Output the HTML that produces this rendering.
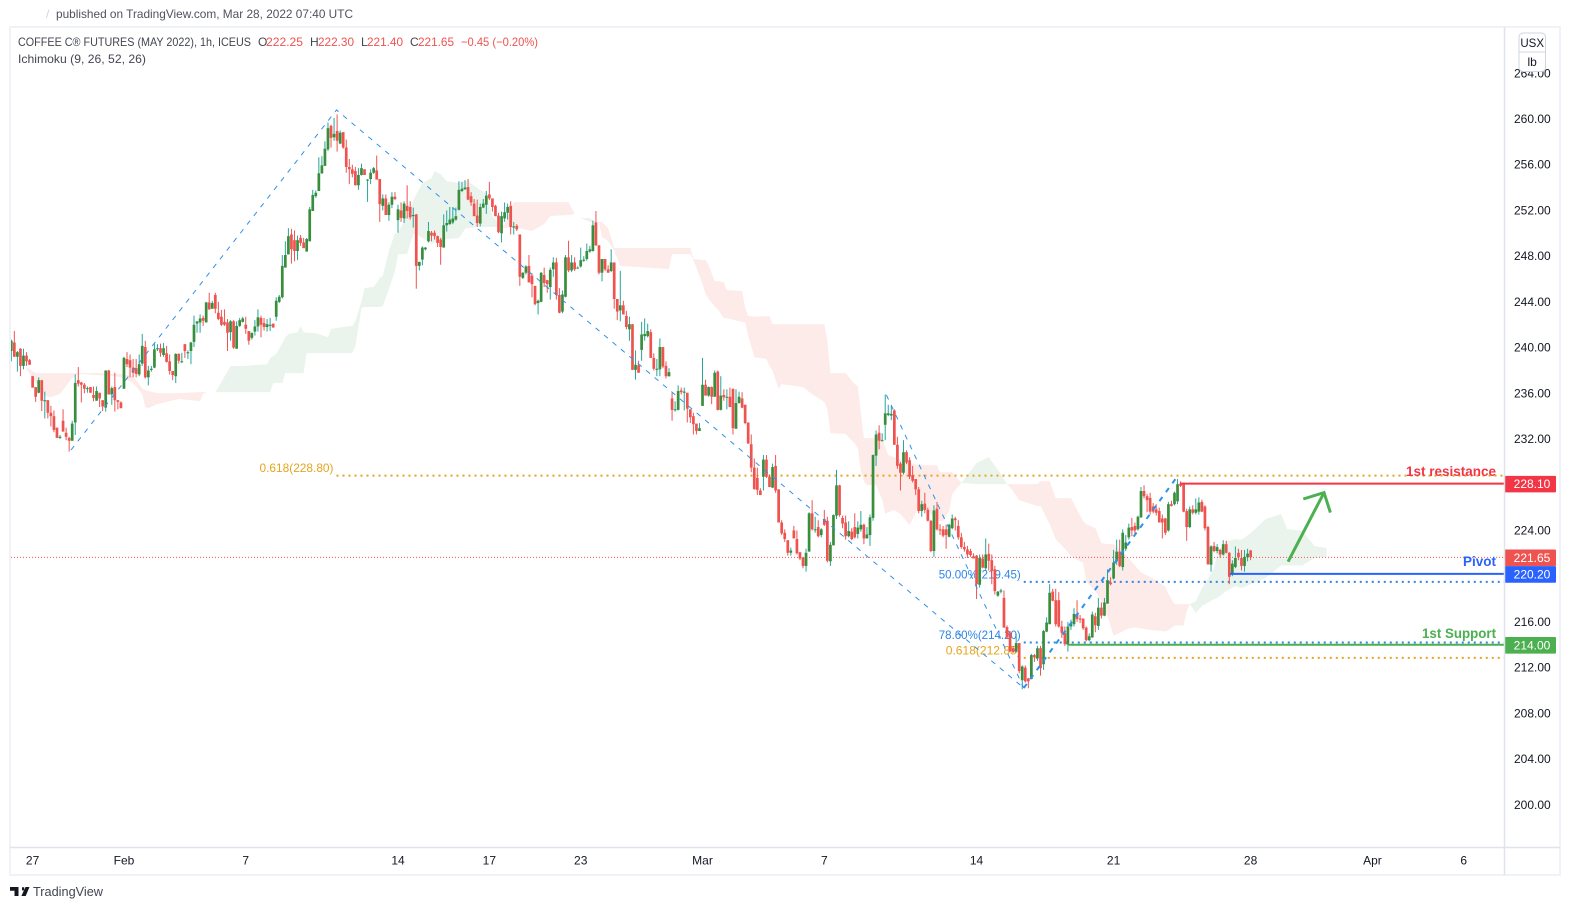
<!DOCTYPE html>
<html lang="en">
<head>
<meta charset="utf-8">
<title>Coffee C Futures chart</title>
<style>
  html, body { margin: 0; padding: 0; background: #ffffff; }
  svg { display: block; font-family: "Liberation Sans", sans-serif; }
</style>
</head>
<body>
<svg id="chart" width="1570" height="910" viewBox="0 0 1570 910" xmlns="http://www.w3.org/2000/svg">
  <rect x="0" y="0" width="1570" height="910" fill="#ffffff"/>
  <text x="46" y="18" font-size="12" fill="#d1d4dc">/</text>
  <text x="56" y="18" font-size="12" fill="#50535e" textLength="297" lengthAdjust="spacingAndGlyphs">published on TradingView.com, Mar 28, 2022 07:40 UTC</text>
  <g id="plot"></g>
  <g id="axes"></g>
  <rect x="10" y="27" width="1550" height="848" fill="none" stroke="#eff2f7" stroke-width="2"/>
  <line x1="1504.5" y1="27" x2="1504.5" y2="875" stroke="#e0e3eb" stroke-width="1.5"/>
  <line x1="10" y1="847.5" x2="1560" y2="847.5" stroke="#e0e3eb" stroke-width="1.5"/>

  <g font-size="12">
    <text x="18" y="46" fill="#434651" textLength="233" lengthAdjust="spacingAndGlyphs">COFFEE C® FUTURES (MAY 2022), 1h, ICEUS</text>
    <text x="258" y="46" fill="#434651">O</text>
    <text x="266" y="46" fill="#ef5350" textLength="37" lengthAdjust="spacingAndGlyphs">222.25</text>
    <text x="310" y="46" fill="#434651">H</text>
    <text x="318" y="46" fill="#ef5350" textLength="36" lengthAdjust="spacingAndGlyphs">222.30</text>
    <text x="361" y="46" fill="#434651">L</text>
    <text x="367" y="46" fill="#ef5350" textLength="36" lengthAdjust="spacingAndGlyphs">221.40</text>
    <text x="410" y="46" fill="#434651">C</text>
    <text x="418" y="46" fill="#ef5350" textLength="36" lengthAdjust="spacingAndGlyphs">221.65</text>
    <text x="461" y="46" fill="#ef5350" textLength="77" lengthAdjust="spacingAndGlyphs">−0.45 (−0.20%)</text>
    <text x="18" y="63" fill="#434651" textLength="128" lengthAdjust="spacingAndGlyphs">Ichimoku (9, 26, 52, 26)</text>
  </g>

  <g>
    <path d="M10 887h8.5v9h-4v-5.2H10z M22 887.2l2.2 0 -0.1 3.2 -2.1 0z M25.5 887h4l-3.8 9h-4.3z" fill="#131722"/>
    <text x="33" y="896" font-size="13" fill="#434651" textLength="70" lengthAdjust="spacingAndGlyphs">TradingView</text>
  </g>
</svg>

<script>
// ---- axis tick data ----
const priceTicks = [264, 260, 256, 252, 248, 244, 240, 236, 232, 224, 216, 212, 208, 204, 200];
const dateTickBars = [7, 37, 77, 127, 157, 187, 227, 267, 317, 362, 407, 447, 477];
const dateTickLabels = ['27', 'Feb', '7', '14', '17', '23', 'Mar', '7', '14', '21', '28', 'Apr', '6'];

// ---- key levels ----
const resistancePrice = 228.10;
const pivotPrice = 220.20;
const supportPrice = 214.00;
const lastPrice = 221.65;
const fibUpperPrice = 228.80;
const fibLowerPrice = 212.85;
const fibHalfPrice = 219.50;
const fibDeepPrice = 214.20;

// ---- hand-drawn trend lines: bar index / price pairs ----
const swingBars = [19.6, 106.8, 332.5];
const swingPrices = [231.04, 260.79, 210.22];
const legBars = [287.4, 332.5, 382.8];
const legPrices = [235.85, 210.22, 228.68];
const arrowBars = [419.3, 431.1];
const arrowPrices = [221.27, 227.31];
const arrowHeadBars = [424.3, 431.1, 433.2];
const arrowHeadPrices = [226.75, 227.31, 225.56];

// ---- Ichimoku cloud ----
const cloudBars = [5,8,11,13,16,20,22,28,34,36,40,43,44,45,48,55,62,63,64,67,
  69,72,76,84,85,86,87,89,90,91,94,95,96,97,100,104,105,111,112,113,115,116,119,121,122,124,126,127,130,132,133,135,138,139,141,143,147,149,150,153,156,158,161,
  162,165,171,175,177,183,185,187,190,192,193,194,196,198,200,216,217,223,224,227,228,229,231,232,234,235,240,241,242,243,244,248,249,250,252,253,260,263,267,268,269,274,277,278,279,280,281,284,286,287,288,290,292,295,298,300,304,305,306,308,309,312,
  317,321,325,327,329,331,337,338,341,343,346,348,352,353,356,358,360,362,367,369,371,375,379,380,382,385,386,387,
  389,391,395,396,399,402,404,407,412,417,419,424,428,432];
const spanA = [238.12,236.90,235.76,235.67,235.94,237.34,237.69,237.60,237.51,237.42,236.90,235.94,234.80,234.71,235.06,235.50,235.32,235.94,236.11,236.11,
  236.99,238.39,238.39,238.56,239.09,239.26,239.44,240.40,240.90,241.19,241.36,241.89,241.36,241.30,241.27,240.92,241.63,241.89,241.89,242.32,244.07,245.21,245.30,246.08,246.26,248.45,250.02,250.02,251.68,252.82,253.43,254.40,254.83,255.45,255.18,254.57,254.40,254.57,254.57,253.96,253.52,251.51,250.55,
  250.46,250.55,250.20,250.81,251.51,251.60,251.68,251.33,251.33,250.98,250.90,249.67,249.32,248.50,247.14,246.87,248.18,248.18,247.66,245.56,244.70,244.25,243.60,243.37,242.58,242.58,242.24,242.24,241.00,240.14,239.17,238.99,238.40,238.00,236.37,236.81,236.54,235.94,235.24,234.60,232.52,232.44,231.60,231.21,229.20,228.30,227.97,227.97,226.70,225.44,225.60,225.79,225.44,224.48,225.96,225.96,224.90,224.82,224.82,225.70,227.19,228.15,
  229.90,230.42,228.94,228.06,227.45,226.66,226.14,226.14,224.56,223.25,222.39,221.77,221.15,219.57,218.70,217.82,216.50,214.78,215.43,215.52,215.43,215.26,215.17,215.26,215.69,215.69,216.93,217.56,
  217.80,218.96,220.67,222.02,223.07,223.25,223.20,223.77,225.00,225.44,224.13,223.96,222.64,222.46];
const spanB = [238.30,237.77,237.77,237.77,237.77,237.77,237.77,237.77,237.69,237.69,237.51,236.46,236.28,236.20,236.02,236.02,236.11,236.11,236.11,236.11,
  236.11,236.11,236.11,236.11,236.11,236.90,236.90,236.90,237.77,237.77,237.77,237.77,237.77,239.52,239.52,239.52,239.52,239.52,239.52,240.14,243.46,243.55,243.55,243.55,243.64,245.12,246.70,248.18,248.18,249.93,249.93,249.58,249.06,249.23,249.32,249.50,249.58,250.37,250.46,250.55,250.55,250.55,250.55,
  250.81,252.73,252.73,252.73,252.73,252.73,251.68,251.33,250.98,250.98,250.98,250.98,250.46,248.71,248.71,248.71,248.71,248.71,247.75,247.66,247.66,247.20,245.82,245.82,245.73,245.03,244.95,243.50,242.76,242.76,242.70,242.76,242.76,242.06,242.06,242.06,242.06,242.06,242.06,240.57,237.77,237.77,236.81,236.60,234.27,232.08,232.08,232.08,232.08,231.30,230.60,230.40,230.20,229.90,229.72,229.72,229.72,229.11,229.11,229.11,229.11,228.15,
  228.06,228.06,228.06,228.06,228.06,228.06,228.06,228.32,228.32,226.83,226.83,226.83,224.82,224.56,224.21,222.90,222.81,222.81,221.59,220.94,220.32,219.79,219.09,218.44,217.56,217.56,217.56,217.56,
  216.78,217.39,218.00,218.09,218.70,219.14,218.96,219.31,219.84,220.94,220.94,220.94,221.59,221.68];

// ---- candles: [open, high, low, close], one row per hourly bar ----
const ohlc = [
[239.7,240.7,238.8,240.6],[240.45,241.45,239.2,239.2],[239.2,239.7,237.9,239.6],[239.9,239.95,237.5,238.4],[238.4,239.9,238.1,239.3],
[239.3,239.6,238.4,238.8],[238.9,239,238.5,238.5],[237.5,237.5,236.5,236.5],[236.55,236.55,235.25,235.7],[236.05,237.4,236,237.15],
[237.15,237.15,234.45,235.35],[235.3,236.15,233.8,235.4],[235.4,235.4,233.8,234.3],[234.3,234.9,233.1,234],[234,234.5,232.6,232.8],
[233,233,232.1,232.1],[232.1,232.35,232,232.2],[233.6,234.6,232.65,232.65],[232.55,233,231.9,232.2],[232.1,232.2,230.9,231.85],
[231.85,233.6,231.85,233.35],[233.45,237.65,232.35,236.9],[237.15,238.3,236.6,236.85],[236.95,237,235.2,236.75],[236.75,236.9,236,236.4],
[236.4,236.6,236.05,236.45],[236.55,236.55,236.05,236.05],[235.85,236.6,235.3,235.6],[235.35,236.6,235.35,236.2],[236.05,236.05,234.8,235.55],
[235.4,235.4,234.45,234.85],[234.75,238,234.4,238],[238,238.05,235.9,235.9],[235.9,236.6,235,236.45],[236.55,237.8,234.4,235.4],
[235.4,235.4,234.6,235.25],[235.2,235.3,234.7,234.7],[236.4,239.2,236.4,239.1],[239,239.6,238.3,238.55],[238.9,239.4,237.4,238.25],
[238.25,239,237.4,237.8],[238.2,239,237.4,237.7],[237.65,239.4,237.5,238.55],[238.6,241.2,238.4,240.15],[240.05,240.6,237.3,237.4],
[237.4,238.4,236.7,238],[238.05,238.4,237.9,238.15],[238.25,240.35,238.2,239.85],[239.85,240.3,239.7,239.95],[239.95,240.35,239.2,239.55],
[239.35,240.4,239.2,239.95],[239.5,240.15,238.7,238.75],[238.8,239.4,237.65,237.95],[237.95,237.95,237.15,237.6],[237.5,239.5,236.9,239.45],
[239.45,239.5,238.6,238.85],[238.75,239.55,238.65,238.8],[240.3,240.3,239.1,239.7],[239.5,239.75,239,239.6],[239.7,240.5,238.55,240.45],
[240.5,242.8,240.05,242],[242.1,242.3,241.3,242.3],[242.2,242.9,241.3,242.55],[242.6,242.8,241.9,242.35],[242.2,244,242.2,243.95],
[243.95,244.8,243.3,243.35],[243.4,244.1,243.4,243.9],[244.6,244.8,243,243.4],[243.05,244,242.4,242.5],[242.7,243.3,241.9,242],
[242.25,243.35,241.9,242],[242.2,242.5,239.7,241.3],[241.35,242.4,240.6,242.3],[242.3,242.4,239.9,240],[239.9,242.3,239.9,241.9],
[241.9,242.6,241.8,242.4],[242.25,242.7,242.2,242.55],[242,242.7,241.2,241.65],[241.45,241.45,240.25,240.6],[240.85,241.3,240.7,241.3],
[241.4,242.4,241.05,241.85],[241.85,243.35,241.4,242.65],[242.6,242.8,240.9,242],[242.15,242.6,241.5,241.8],[241.8,242.5,241.4,242.05],
[241.9,242.6,241.45,242],[242.1,242.1,241.75,241.75],[242.7,244.4,242.35,244.1],[244,244.6,243.9,244.45],
[244.4,248.1,244.3,247.15],[247,249.3,247,248.1],[248.15,250.45,248.15,249.75],[249.9,250.4,247.35,248.6],[249.4,250.25,247.55,248.45],
[248.45,249.8,247.65,249.4],[249.6,249.85,248.9,249.15],[249.2,249.6,248.7,248.7],[248.4,249.6,248.4,249.5],[249.3,252.3,249.3,252.1],
[251.95,253.8,251.95,253.35],[253.25,253.75,253.1,253.55],[253.7,256.65,253.7,255.25],[255.25,256.75,255.2,255.95],[255.9,258.05,255.9,257.4],
[257.35,259.7,257.2,259.2],[259.4,259.5,257.5,258.35],[258.4,260.1,258.1,258.7],[258.95,260.4,257.15,258.1],[257.85,259,257.8,258.8],
[258.85,258.85,257.4,257.5],[257.5,258.2,255.3,255.8],[255.8,256.5,254.3,255.6],[255.6,256,254.9,255.2],[255.45,255.8,254.2,254.2],
[254.2,255.7,253.8,255.1],[255.1,256.1,255.05,255.7],[255.6,255.6,255.1,255.1],[254.65,254.75,252.75,254.7],[254.75,255.6,254.3,255.3],
[255.3,255.8,255.2,255.7],[255.5,256.8,254.7,254.7],[254.75,254.75,251,252.55],[252.4,253.4,252,253.05],[253.05,253.4,251.6,251.6],
[251.6,252.7,251.1,252.5],[252.5,253.6,252.2,253.2],[253.2,253.6,252.9,253],[251.15,252.5,250.05,252.1],[252,252.7,251,251.35],
[251.3,252.8,250.9,252.6],[252.4,254.2,251.3,251.95],[252.3,252.8,251.2,251.4],[251.5,252.25,250.5,251.6],[251.65,251.7,245.15,247.15],
[247.15,247.5,246.75,247.5],[247.7,248.85,247.2,248.75],[248.6,248.8,248.5,248.75],[249.3,251,249.2,250.2],[250.05,250.2,249.3,249.8],
[250.05,250.25,249.45,249.75],[249.75,249.8,248.8,249.15],[249.45,249.6,247.25,248.8],[248.75,251.65,248.75,250.7],[250.7,252,250.15,250.9],
[250.8,252.3,250.75,251.2],[250.95,252.3,250.8,251.3],[251.2,252.25,251.1,251.5],[252.05,254.55,252,253.8],[253.7,254.5,253.6,253.9],
[253.85,254.65,253.8,254],[254.05,254.75,252.9,252.95],[253.25,253.6,252.4,252.7],[252.6,253,251.5,251.5],[251.55,252.95,250.55,250.9],
[250.85,252.6,250.6,252.3],[252.25,253,252.2,252.6],[252.5,253.7,251.7,253.3],[253.4,254.5,252.9,253.05],[253.05,253.05,251.9,252.3],
[252.4,252.5,251.5,251.5],[251.55,251.8,250,250.1],[250,251.9,249.2,251.5],[251.3,252.7,251,251.85],[251.8,252.6,251.2,252.3],
[252.4,252.8,249.9,250.55],[250.5,251,249.9,250.6],[250.65,250.8,250.2,250.35],[249.9,249.9,245.4,246.2],[246.1,246.6,246,246.55],
[246.55,247.2,246.4,247.1],[247.15,248.1,245.7,245.7],[246.3,246.5,244.4,245.55],[245.4,245.4,243.7,243.8],[243.9,244.2,242.9,244.1],
[244,246.6,244,246.55],[246.35,247,245.3,245.65],[245.9,245.9,244.8,245.55],[245.3,247,244.2,246.8],[246.85,247.9,246.2,247.45],
[247.45,247.85,244.2,244.6],[244.6,245.2,243,243.05],[243.15,245,243,244.65],[244.45,248.1,244.4,247.9],[247.9,249.35,246.6,246.75],
[246.75,248.1,246.6,247.45],[247.45,247.9,246.7,246.85],[246.95,247.1,246.9,247],[247.1,248.75,247,247.65],[247.6,248,247.5,247.7],
[247.75,249.1,247.6,248.45],[248.4,248.9,248.3,248.6],[248.45,251.1,248.4,250.7],[250.95,251.95,248.9,248.95],[248.95,248.95,246.4,246.55],
[246.55,247.75,245.8,247.75],[247.75,247.75,246.7,246.85],[246.85,247.2,246.55,246.55],[246.7,248.6,246.6,247.45],[247.45,247.45,243.4,244.25],
[244.25,244.25,242.4,243.15],[243.25,246.7,242.3,243.7],[243.7,244.1,242.9,242.9],[242.77,243.2,241.6,241.8],
[241.6,242.7,240.6,242.05],[242.05,242.05,238.05,238.05],[238.05,239.75,237.2,238.5],[238.45,238.85,237.8,237.8],[239.8,242.25,238.85,241.15],
[241,242.55,240.6,241.2],[241,242.1,240.9,241.45],[241.35,241.6,239.1,239.1],[239.1,239.5,238,238.15],[238.05,239,237.5,238.15],
[238.1,240.8,237.5,240.05],[240.05,240.05,238.2,238.35],[238.4,238.8,237.3,237.5],[237.5,238.2,237.45,237.85],[235.55,236.05,233.6,234.55],
[234.55,235.3,234.4,234.6],[234.55,236.7,234.5,236.2],[236.25,236.5,235.9,236.1],[236.05,236.5,234.5,236.15],[236.05,236.05,233.45,234.65],
[234.6,234.6,233.4,233.9],[234,234.3,232.4,233.3],[233.35,233.35,232.4,232.7],[232.7,233.4,232.7,232.95],[234.9,239.1,234.9,236.75],
[236.75,237.2,235.8,235.8],[235.8,236.6,235.7,236.55],[236.55,236.6,235.05,235.7],[235.7,238,235.7,237.8],[237.9,238,234.5,234.55],
[234.55,237.5,234.5,235.8],[235.85,236.35,235.35,235.65],[235.65,236.35,234.6,235.7],[235.7,236.5,234.8,234.8],[236.4,236.4,232.4,232.95],
[232.9,236.35,232.9,235.15],[235.15,236.15,235.1,235.7],[235.55,236.1,234.7,234.75],[235,235,233.3,233.4],[233.45,233.45,231.6,231.6],
[231.55,232.4,229.1,229.5],[229.5,230.3,227.6,227.6],[228.6,229.5,227.1,227.55],[227.5,227.7,227.1,227.1],[228.7,230.6,227.5,230.2],
[230.2,230.6,228.6,228.7],[228.7,228.9,227.8,227.8],[227.75,229.85,227.7,229.55],[229.65,230.6,227.3,227.5],[227.6,227.6,224.7,224.7],
[224.7,224.9,223.6,223.75],[223.8,224.1,223,223.25],[223.15,223.15,221.8,222.05],[222.05,222.5,221.8,222.25],[224,224.4,223.3,223.3],
[223.25,224,221.9,222],[222.1,222.1,221.4,221.55],[221.65,221.65,220.7,220.9],[220.9,222.4,220.4,222.05],[222.15,225.6,222.15,225.5],
[225.5,226.65,224,224.1],[224.05,225.2,223.8,224.1],[224.3,224.9,223.4,223.5],[223.6,224.2,223.4,224.1],[225,225.8,224.4,224.5],
[224.85,225.2,221.2,221.35],[221.3,223,220.9,222.75],[222.7,225.4,222.7,225.35],[225.3,229.3,225,227.95],[227.95,228,225.2,225.35],
[225.1,225.3,224.2,224.6],[224.7,225.3,223.2,223.5],[223.5,224.8,223.4,223.95],[223.9,224.2,223.15,223.25],[224.3,225.5,223.3,223.4],
[223.7,224.8,223.3,224.25],[224.1,225.7,223.9,224.5],[224.5,224.6,222.8,223.3],[223.3,224.3,223.3,223.65],[223.6,225.4,222.65,225.15],
[225.1,230.65,224.85,230.6],[230.55,232.75,229.65,232.4],[232.55,233.2,231.1,231.85],[231.85,232.5,231.8,231.9],[233.25,235.9,231.9,234.25],
[234.1,235,234,234.25],[234.05,234.9,233.65,234.2],[234.5,234.6,231.5,231.5],[231.5,232.2,229.4,229.65],[229.85,230,227.5,229.05],
[229.05,231.9,228.9,230.85],[230.85,231,229.8,229.95],[230.15,230.4,228.5,228.7],[228.85,229.65,228.2,228.35],[228.5,228.5,227.1,227.6],
[227.6,227.8,225.5,225.7],[225.7,226.6,225.2,226.3],[226.35,227.3,225.5,225.8],[225.8,226,224.8,224.85],[224.85,224.9,222.1,222.2],
[222.2,226.2,221.7,225.75],[225.9,226.5,224,224.1],[224.1,224.55,223.6,224],[224.1,224.4,223.4,223.55],[224.1,224.5,222.4,223.6],
[223.45,224.6,223.4,224.5],
[224.2,225.4,224.1,225.05],[225.05,225.2,224,224.9],[224.4,224.9,223.2,223.4],[223.4,223.8,222.4,222.55],[222.55,223,222.15,222.35],
[222.35,222.65,221.6,221.9],[222.2,222.4,221.7,221.85],[221.75,222,221.55,221.55],[221.8,221.85,218,219.3],[219.25,221.9,219,221.6],
[221.55,221.9,220.7,220.75],[220.7,223.3,220.5,221.9],[221.95,222.85,220.5,221.35],[221.4,221.9,219.3,220.45],[220.6,220.9,218.4,218.7],
[218.3,218.7,218.2,218.65],[218.65,218.9,218.5,218.75],[218.1,218.75,215.5,215.5],[215.55,215.7,214.5,214.65],[215.05,215.2,213.4,213.4],
[213.7,213.9,213.3,213.35],[213.4,215,213.3,214.15],[214.15,214.15,211.5,211.7],[210.9,212.2,210.1,212.1],[212,212.2,210.7,210.8],
[211.05,211.1,210.2,210.8],[211,213.2,211,213.1],[213.1,213.2,212.5,212.9],[212.8,213.9,212.6,213.7],[213.7,213.9,211.3,211.95],
[212.3,215.3,211.8,215.2],[215.15,216.4,215.1,215.95],[215.8,219.3,215.8,218.55],[218.65,218.9,217.8,217.85],[217.9,218.9,215.6,215.8],
[217.9,218.6,215.5,215.6],[215.6,216.1,214.6,215.05],[215.05,215.6,213.9,214.05],[214,216,213.4,215.6],[215.6,216.2,215.3,215.85],
[215.8,217.2,215.6,216.7],[216.7,217.9,216,216.25],[216.3,216.6,215.9,216.2],[216.3,216.3,215.3,215.45],[215.5,215.6,214.3,214.4],
[214.4,215,214.3,214.75],[214.65,216.9,214.6,216.65],[216.5,216.8,215.1,215.7],[215.65,218.1,215.3,217.25],[217.25,217.7,216.3,216.55],
[216.55,218.1,216.5,217.7],[217.6,220.6,217.6,219.65],[219.45,219.9,219.2,219.3],[219.8,222.3,219.7,221.2],[221.3,223.2,221,222.15],
[222.15,223.2,220.8,220.9],[220.8,224.1,220.5,223.8],[222.4,223.6,222.2,222.95],[223.4,224.6,223.2,224.25],[224.3,225.1,223.5,224],
[224.4,224.7,223.6,224],[224.1,225.3,224,225.2],[225.15,227.8,225.1,227.45],[227.45,227.95,226.8,227],[227,227.2,225.6,226.65],
[226.85,227.3,225.4,225.65],[226.1,226.4,225.5,225.65],[225.85,226.3,225.3,225.55],[225.7,226,224.7,224.7],[225.05,225.4,223.3,224.7],
[225.05,225.1,223.6,223.8],[224,226.5,223.9,226.3],[226.3,226.6,226.1,226.15],[226.3,227.4,226.2,227.3],[226.55,228.5,226.3,228.05],
[228.1,228.3,227.8,227.9],[228.05,228.2,225.6,225.65],[225.7,225.9,223.1,224.3],[224.3,226.1,224.2,225.85],[225.85,226.2,225.4,225.55],
[225.55,226.8,225.4,225.85],[225.65,226.9,225.4,226.45],[226.5,226.7,225.6,225.65],[226.1,226.2,224,224.2],[224.3,224.4,221,221.05],
[221,222.7,220.4,222.6],[222.65,223,222.1,222.2],[222.2,222.8,222,222.55],[222.3,222.4,221.6,221.9],[221.9,223.15,221.8,222.8],
[222.8,223.1,222,222.05],[222.05,222.1,219.3,219.95],[220.15,221.4,220,221.1],[220.8,222.6,220.7,221.6],[222.05,222.4,221.4,221.65],
[221.6,222.3,220.5,220.9],[220.9,222.3,220.4,221.7],[221.65,222.4,221.3,221.98],[222.25,222.3,221.4,221.65]
];

// ---- axis functions ----
const barStep = 3.045, barOrigin = 11.3, pxPerUnit = 11.43, priceOriginY = 119;
function xBar(bar) { return barOrigin + barStep * bar; }
function yPrice(price) { return priceOriginY + (260 - price) * pxPerUnit; }

const NS = 'http://www.w3.org/2000/svg';
const plot = document.getElementById('plot');
const axes = document.getElementById('axes');
function make(tag, parent, attrs) {
  const el = document.createElementNS(NS, tag);
  for (const k in attrs) el.setAttribute(k, attrs[k]);
  parent.appendChild(el);
  return el;
}

// ---- cloud: consecutive samples with the same sign merge into one polygon ----
function drawCloud() {
  let start = 0;
  const signOf = k => (spanA[k] - spanB[k] + spanA[k + 1] - spanB[k + 1]) >= 0 ? 1 : -1;
  for (let k = 0; k < cloudBars.length - 1; k++) {
    const last = k === cloudBars.length - 2;
    if (last || signOf(k) !== signOf(k + 1)) {
      const pts = [];
      for (let j = start; j <= k + 1; j++) pts.push(xBar(cloudBars[j]).toFixed(1) + ',' + yPrice(spanA[j]).toFixed(1));
      for (let j = k + 1; j >= start; j--) pts.push(xBar(cloudBars[j]).toFixed(1) + ',' + yPrice(spanB[j]).toFixed(1));
      const el = make('polygon', plot, { points: pts.join(' '), fill: signOf(k) > 0 ? '#ebf4ec' : '#fdebe9' });
      
      
      start = k + 1;
    }
  }
}
drawCloud();

// ---- last price dotted line ----
const lastLine = make('line', plot, { x1: 11, x2: 1504, y1: yPrice(lastPrice), y2: yPrice(lastPrice), stroke: '#ef5350', 'stroke-width': 1, 'stroke-dasharray': '1 2' });



// ---- fibonacci dotted levels ----
function fibLevel(price, startBar, color, label, width) {
  const y = yPrice(price);
  const line = make('line', plot, { x1: xBar(startBar), x2: 1504, y1: y, y2: y, stroke: color, 'stroke-width': 2, 'stroke-dasharray': '2 4' });
  
  
  const txt = make('text', plot, { x: xBar(startBar) - 3, y: y - 3.5, 'text-anchor': 'end', 'font-size': 12, fill: color, textLength: width, lengthAdjust: 'spacingAndGlyphs' });
  txt.textContent = label;
  
  
}
fibLevel(fibUpperPrice, 106.8, '#e6a41f', '0.618(228.80)', 74);
fibLevel(fibHalfPrice, 332.5, '#2e86e6', '50.00%(219.45)', 82);
fibLevel(fibDeepPrice, 332.5, '#2e86e6', '78.60%(214.20)', 82);
fibLevel(fibLowerPrice, 332.5, '#e6a41f', '0.618(212.85)', 75);

// ---- candles ----
ohlc.forEach(function (row, i) {
  const open = row[0], high = row[1], low = row[2], close = row[3];
  const up = close >= open;
  const x = xBar(i);
  const wick = make('line', plot, { x1: x, x2: x, y1: yPrice(high), y2: yPrice(low), stroke: up ? '#26a69a' : '#ef5350', 'stroke-width': 1 });
  
  
  const top = yPrice(Math.max(open, close));
  const h = Math.max(1, yPrice(Math.min(open, close)) - top);
  const body = make('rect', plot, { x: x - 1.35, y: top, width: 2.7, height: h, fill: up ? '#388e3c' : '#ef5350' });
  
  
});

// ---- dashed trend lines ----
function trend(bars, prices, width) {
  const pts = bars.map((b, i) => xBar(b).toFixed(1) + ',' + yPrice(prices[i]).toFixed(1)).join(' ');
  const el = make('polyline', plot, { points: pts, fill: 'none', stroke: '#2e90ea', 'stroke-width': width, 'stroke-dasharray': '5 6' });
  
  
}
trend(swingBars, swingPrices, 1);
trend(legBars.slice(0, 2), legPrices.slice(0, 2), 1);
trend(legBars.slice(1), legPrices.slice(1), 2);

// ---- solid key levels ----
function keyLevel(price, startBar, color, label, labelY, labelWidth, lineName, textName) {
  const y = yPrice(price);
  const line = make('line', plot, { x1: xBar(startBar), x2: 1504, y1: y, y2: y, stroke: color, 'stroke-width': 2 });
  
  
  const t = make('text', plot, { x: 1496, y: labelY, 'text-anchor': 'end', 'font-size': 14, 'font-weight': 'bold', fill: color, textLength: labelWidth, lengthAdjust: 'spacingAndGlyphs' });
  t.textContent = label;
  
  
}
keyLevel(resistancePrice, 383.8, '#f23645', '1st resistance', 476, 90, 'resistance-line', 'resistance-label');
keyLevel(pivotPrice, 400.2, '#2962ff', 'Pivot', 566, 33, 'pivot-line', 'pivot-label');
keyLevel(supportPrice, 346.9, '#4caf50', '1st Support', 638, 74, 'support-line', 'support-label');

// ---- green forecast arrow ----
const arrowShaft = make('line', plot, { x1: xBar(arrowBars[0]), y1: yPrice(arrowPrices[0]), x2: xBar(arrowBars[1]), y2: yPrice(arrowPrices[1]), stroke: '#4caf50', 'stroke-width': 3 });


const arrowHead = make('polyline', plot, { points: arrowHeadBars.map((b, i) => xBar(b).toFixed(1) + ',' + yPrice(arrowHeadPrices[i]).toFixed(1)).join(' '), fill: 'none', stroke: '#4caf50', 'stroke-width': 3 });



// ---- price axis ----
priceTicks.forEach(function (p) {
  const t = make('text', axes, { x: 1514, y: yPrice(p) + 4, 'font-size': 12, fill: '#131722' });
  t.textContent = p.toFixed(2);
  
  
});

// ---- currency / unit buttons ----
const unitBox = make('rect', axes, { x: 1519, y: 33, width: 26.5, height: 38.5, rx: 4, fill: '#ffffff', stroke: '#d1d4dc', 'stroke-width': 1 });


const unitDivider = make('line', axes, { x1: 1519, x2: 1545.5, y1: 52, y2: 52, stroke: '#d1d4dc', 'stroke-width': 1 });


const usx = make('text', axes, { x: 1532.2, y: 47, 'text-anchor': 'middle', 'font-size': 11.5, fill: '#131722' });
usx.textContent = 'USX';


const lb = make('text', axes, { x: 1532.2, y: 66, 'text-anchor': 'middle', 'font-size': 12, fill: '#131722' });
lb.textContent = 'lb';



// ---- price boxes ----
function priceBox(price, color, name) {
  const y = yPrice(price) + 0.5;
  const box = make('rect', axes, { x: 1504, y: y - 8.3, width: 52, height: 16.6, fill: color, rx: 1 });
  
  
  const t = make('text', axes, { x: 1532, y: y + 4, 'text-anchor': 'middle', 'font-size': 12, fill: '#ffffff' });
  t.textContent = price.toFixed(2);
  
  
}
priceBox(resistancePrice, '#f23645', 'resistance-price');
priceBox(lastPrice, '#ef5350', 'last-price');
priceBox(pivotPrice, '#2962ff', 'pivot-price');
priceBox(supportPrice, '#4caf50', 'support-price');

// ---- time axis ----
dateTickBars.forEach(function (bar, i) {
  const t = make('text', axes, { x: xBar(bar), y: 864.5, 'text-anchor': 'middle', 'font-size': 12, fill: '#131722' });
  t.textContent = dateTickLabels[i];
  
  
});
</script>
</body>
</html>
